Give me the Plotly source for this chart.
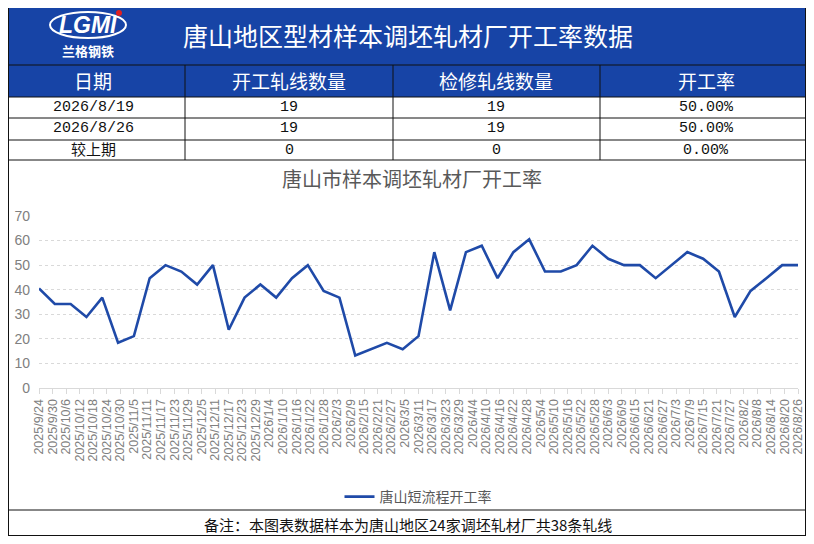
import pandas as pd
import plotly.graph_objects as go

# the page keeps an 8px body margin, so the figure is drawn 16px smaller
W, H = 798, 528
OFF = 8

# weekly operating rate (%), Tangshan sample rolling mills
dates = pd.date_range("2025-09-24", "2026-08-26", freq="7D")
rate = [40.5, 34.2, 34.2, 28.9, 36.8, 18.4, 21.1, 44.7, 50.0, 47.4,
        42.1, 50.0, 23.7, 36.8, 42.1, 36.8, 44.7, 50.0, 39.5, 36.8,
        13.2, 15.8, 18.4, 15.8, 21.1, 55.3, 31.6, 55.3, 57.9, 44.7,
        55.3, 60.5, 47.4, 47.4, 50.0, 57.9, 52.6, 50.0, 50.0, 44.7,
        50.0, 55.3, 52.6, 47.4, 28.9, 39.5, 44.7, 50.0, 50.0]

tick_dates = pd.date_range("2025-09-24", "2026-08-26", freq="6D")
tick_text = [f"{d.year}/{d.month}/{d.day}" for d in tick_dates]

table_head = ["日期", "开工轧线数量", "检修轧线数量", "开工率"]
table_rows = [["2026/8/19", "19", "19", "50.00%"],
              ["2026/8/26", "19", "19", "50.00%"],
              ["较上期", "0", "0", "0.00%"]]

BLUE = "#1744A6"
LINE = "#1F4AA8"
CJK = "Noto Sans CJK SC"


def px(x):
    # page pixel -> paper fraction
    return min(max((x - OFF) / W, 0), 1)


def py(y):
    return min(max(1 - (y - OFF) / H, 0), 1)


fig = go.Figure()
fig.add_trace(go.Scatter(x=dates, y=rate, mode="lines", name="唐山短流程开工率",
                         line=dict(color=LINE, width=2.6)))

P = dict(xref="paper", yref="paper")
shapes = []
# blue title band + table header row
shapes.append(dict(type="rect", x0=px(3), x1=px(811), y0=py(0), y1=py(97),
                   fillcolor=BLUE, line=dict(width=0), **P))
# horizontal rules
for y in [65, 97, 118, 140, 160, 510, 535.5]:
    shapes.append(dict(type="line", x0=px(3), x1=px(811), y0=py(y), y1=py(y),
                       line=dict(color="#111111", width=1), **P))
# outer left/right borders
for x in [8.5, 805.5]:
    shapes.append(dict(type="line", x0=px(x), x1=px(x), y0=py(0), y1=py(541),
                       line=dict(color="#111111", width=1), **P))
# table column rules
for x in [185, 393, 600]:
    shapes.append(dict(type="line", x0=px(x), x1=px(x), y0=py(65), y1=py(160),
                       line=dict(color="#111111", width=1), **P))
# logo oval + red dot
shapes.append(dict(type="circle", x0=px(50), x1=px(126), y0=py(12), y1=py(38),
                   line=dict(color="white", width=2), **P))
shapes.append(dict(type="circle", x0=px(116), x1=px(122), y0=py(10), y1=py(16),
                   fillcolor="#E02020", line=dict(width=0), **P))

C = dict(xanchor="center", yanchor="middle", showarrow=False, **P)
ann = []
ann.append(dict(x=px(88), y=py(25), text="<b><i>LGMI</i></b>",
                font=dict(family="Liberation Sans", size=23, color="white"), **C))
ann.append(dict(x=px(88), y=py(51), text="<b>兰格钢铁</b>",
                font=dict(family=CJK, size=13, color="white"), **C))
ann.append(dict(x=px(408), y=py(35), text="唐山地区型材样本调坯轧材厂开工率数据",
                font=dict(family=CJK, size=25, color="white"), **C))

col_x = [93, 289, 496, 706]
for cx, t in zip(col_x, table_head):
    ann.append(dict(x=px(cx), y=py(81), text=t,
                    font=dict(family=CJK, size=19, color="white"), **C))
for ry, row in zip([107.5, 129, 150], table_rows):
    for cx, t in zip(col_x, row):
        ann.append(dict(x=px(cx), y=py(ry), text=t,
                        font=dict(family="Liberation Mono, " + CJK, size=15, color="#111111"), **C))

ann.append(dict(x=px(412), y=py(178), text="唐山市样本调坯轧材厂开工率",
                font=dict(family=CJK, size=20, color="#595959"), **C))
ann.append(dict(x=px(408), y=py(524), text="备注：本图表数据样本为唐山地区24家调坯轧材厂共38条轧线",
                font=dict(family=CJK, size=15, color="#111111"), **C))

fig.update_layout(
    width=W, height=H,
    margin=dict(l=0, r=0, t=0, b=0, autoexpand=False),
    paper_bgcolor="white", plot_bgcolor="white",
    shapes=shapes, annotations=ann,
    showlegend=True,
    legend=dict(orientation="h", x=px(418), xanchor="center", y=py(497), yanchor="middle",
                font=dict(family=CJK, size=14, color="#595959"), bgcolor="rgba(0,0,0,0)"),
    xaxis=dict(domain=[px(39), px(798)], type="date", automargin=False,
               range=[dates[0], dates[-1]],
               tickvals=tick_dates, ticktext=tick_text, tickangle=-90,
               ticklabeloverflow="allow",
               ticks="outside", ticklen=5, tickcolor="#D9D9D9",
               showline=True, linecolor="#D9D9D9", showgrid=False,
               tickfont=dict(family="Liberation Sans", size=12.5, color="#808080")),
    yaxis=dict(domain=[py(388), py(216)], range=[0, 70], dtick=10, automargin=False,
               showgrid=True, gridcolor="#D9D9D9", griddash="dot", zeroline=False,
               tickfont=dict(family="Liberation Sans", size=14, color="#808080"),
               ticks="", ticklabelstandoff=8),
)

fig.write_html("out.html", config={"displayModeBar": False})
